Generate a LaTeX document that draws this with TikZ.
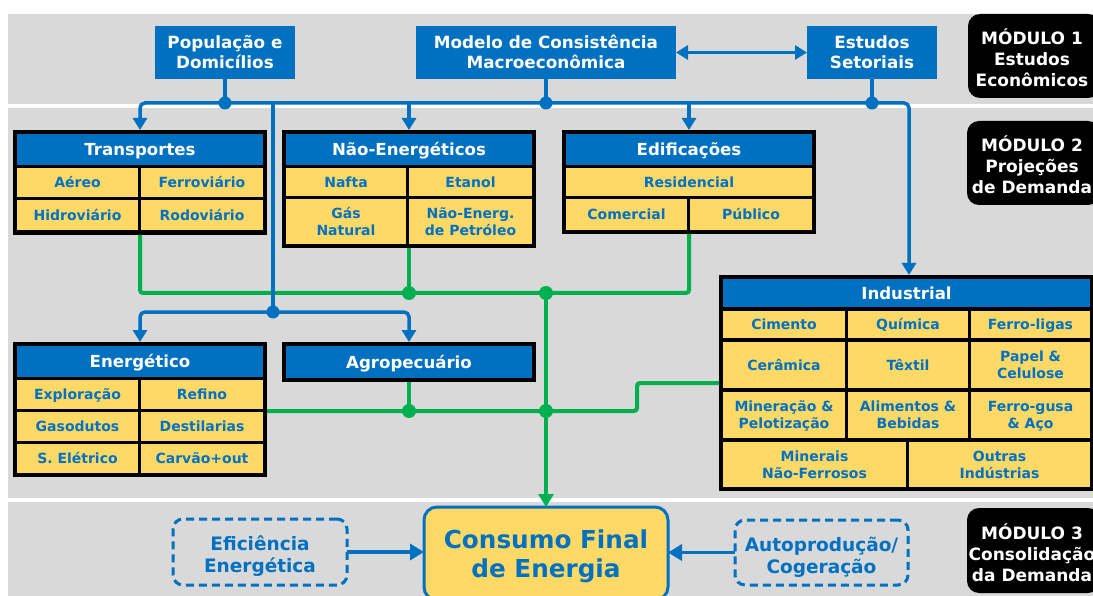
\documentclass[tikz,border=0pt]{standalone}
\usepackage{fontspec}
\setmainfont{DejaVu Sans}
\usetikzlibrary{arrows.meta}
\definecolor{eblue}{HTML}{0070C0}
\definecolor{eyel}{HTML}{FFD966}
\definecolor{egray}{HTML}{D9D9D9}
\definecolor{egreen}{HTML}{00B050}
\def\capht{.73em}
\newcommand{\Ln}[1]{\rule{0pt}{\capht}\smash{#1}}
\newcommand{\fT}{\fontsize{16.8}{20}\selectfont\bfseries}
\newcommand{\fH}{\fontsize{16.6}{20}\selectfont\bfseries}
\newcommand{\fC}{\fontsize{14}{16.8}\selectfont\bfseries}
\newcommand{\fM}{\fontsize{17}{21}\selectfont\bfseries\def\capht{1.06em}}
\newcommand{\fD}{\fontsize{18.5}{22}\selectfont\bfseries\def\capht{1.05em}}
\newcommand{\fB}{\fontsize{24.7}{29}\selectfont\bfseries}
\newcommand{\mkbox}[7]{\node[#1, minimum width={(#5-#3)*1pt}, minimum height={(#6-#4)*1pt}] (#2) at ({(#3+#5)/2},{(#4+#6)/2}) {#7};}
\begin{document}
\begin{tikzpicture}[x=1pt,y=-1pt,
  outerb/.style={fill=black, inner sep=0pt, outer sep=0pt},
  hdr/.style={fill=eblue, text=white, font=\fH, inner sep=0pt, outer sep=0pt, align=center},
  cellb/.style={fill=eyel, text=eblue, font=\fC, inner sep=0pt, outer sep=0pt, align=center},
  topb/.style={fill=eblue, text=white, font=\fT, inner sep=0pt, outer sep=0pt, align=center},
  modb/.style={fill=black, rounded corners=12pt, inner sep=0pt, outer sep=0pt},
  modt/.style={text=white, font=\fM, align=center, inner sep=0pt},
  dashb/.style={draw=eblue, line width=3pt, dash pattern=on 8pt off 5pt, rounded corners=10pt, text=eblue, font=\fD, align=center, inner sep=0pt, outer sep=0pt},
  bigb/.style={draw=eblue, line width=3pt, fill=eyel, rounded corners=13pt, text=eblue, font=\fB, align=center, inner sep=0pt, outer sep=0pt},
  bline/.style={draw=eblue, line width=3.5pt},
  gline/.style={draw=egreen, line width=4pt},
  btip/.tip={Triangle[width=14pt,length=12pt]},
  gtip/.tip={Triangle[width=15pt,length=13pt]},
  ctip/.tip={Triangle[width=16pt,length=14pt]}
]
\useasboundingbox (0,0) rectangle (1093,596);
\clip (0,0) rectangle (1093,596);
\fill[white] (0,0) rectangle (1093,596);
% bands
\fill[egray] (8,14) rectangle (1100,104);
\fill[egray] (8,108) rectangle (1100,498);
\fill[egray] (8,502) rectangle (1100,600);

% module labels
\mkbox{modb}{m1}{968}{14}{1100}{98}{}
\mkbox{modb}{m2}{967}{121}{1100}{205}{}
\mkbox{modb}{m3}{967}{508}{1100}{593}{}
\node[modt] (m1t) at (1032,56) {\Ln{MÓDULO 1}\\\Ln{Estudos}\\\Ln{Econômicos}};
\node[modt] (m2t) at (1032,163) {\Ln{MÓDULO 2}\\\Ln{Projeções}\\\Ln{de Demanda}};
\node[modt] (m3t) at (1032,551) {\Ln{MÓDULO 3}\\\Ln{Consolidação}\\\Ln{da Demanda}};

% top boxes
\mkbox{topb}{pop}{155}{26}{295}{79}{\Ln{População e}\\\Ln{Domicílios}}
\mkbox{topb}{modelo}{416}{26}{676}{79}{\Ln{Modelo de Consistência}\\\Ln{Macroeconômica}}
\mkbox{topb}{estudos}{807}{26}{937}{79}{\Ln{Estudos}\\\Ln{Setoriais}}

% Transportes
\mkbox{outerb}{trans}{13}{130}{267}{235}{}
\mkbox{hdr}{transh}{17}{134}{263}{165}{\Ln{Transportes}}
\mkbox{cellb}{t1}{17}{168}{138}{197}{\Ln{Aéreo}}
\mkbox{cellb}{t2}{141}{168}{263}{197}{\Ln{Ferroviário}}
\mkbox{cellb}{t3}{17}{200}{138}{230}{\Ln{Hidroviário}}
\mkbox{cellb}{t4}{141}{200}{263}{230}{\Ln{Rodoviário}}

% Nao-Energeticos
\mkbox{outerb}{nao}{282}{130}{536}{248}{}
\mkbox{hdr}{naoh}{286}{134}{532}{165}{\Ln{Não-Energéticos}}
\mkbox{cellb}{n1}{286}{168}{406}{196}{\Ln{Nafta}}
\mkbox{cellb}{n2}{409}{168}{532}{196}{\Ln{Etanol}}
\mkbox{cellb}{n3}{286}{199}{406}{244}{\Ln{Gás}\\\Ln{Natural}}
\mkbox{cellb}{n4}{409}{199}{532}{244}{\Ln{Não-Energ.}\\\Ln{de Petróleo}}

% Edificacoes
\mkbox{outerb}{edif}{562}{130}{816}{234}{}
\mkbox{hdr}{edifh}{566}{134}{812}{165}{\Ln{Edificações}}
\mkbox{cellb}{e1}{566}{168}{812}{196}{\Ln{Residencial}}
\mkbox{cellb}{e2}{566}{199}{687}{230}{\Ln{Comercial}}
\mkbox{cellb}{e3}{690}{199}{812}{230}{\Ln{Público}}

% Energetico
\mkbox{outerb}{ener}{13}{342}{267}{477}{}
\mkbox{hdr}{enerh}{17}{346}{263}{377}{\Ln{Energético}}
\mkbox{cellb}{r1}{17}{380}{138}{409}{\Ln{Exploração}}
\mkbox{cellb}{r2}{141}{380}{263}{409}{\Ln{Refino}}
\mkbox{cellb}{r3}{17}{412}{138}{441}{\Ln{Gasodutos}}
\mkbox{cellb}{r4}{141}{412}{263}{441}{\Ln{Destilarias}}
\mkbox{cellb}{r5}{17}{444}{138}{473}{\Ln{S. Elétrico}}
\mkbox{cellb}{r6}{141}{444}{263}{473}{\Ln{Carvão+out}}

% Agropecuario
\mkbox{outerb}{agro}{282}{342}{536}{382}{}
\mkbox{hdr}{agroh}{286}{346}{532}{378}{\Ln{Agropecuário}}

% Industrial
\mkbox{outerb}{ind}{719}{275}{1094}{491}{}
\mkbox{hdr}{indh}{723}{279}{1090}{307}{\Ln{Industrial}}
\mkbox{cellb}{i1}{723}{311}{845}{338}{\Ln{Cimento}}
\mkbox{cellb}{i2}{848}{311}{968}{338}{\Ln{Química}}
\mkbox{cellb}{i3}{971}{311}{1090}{338}{\Ln{Ferro-ligas}}
\mkbox{cellb}{i4}{723}{342}{845}{388}{\Ln{Cerâmica}}
\mkbox{cellb}{i5}{848}{342}{968}{388}{\Ln{Têxtil}}
\mkbox{cellb}{i6}{971}{342}{1090}{388}{\Ln{Papel \&}\\\Ln{Celulose}}
\mkbox{cellb}{i7}{723}{392}{845}{438}{\Ln{Mineração \&}\\\Ln{Pelotização}}
\mkbox{cellb}{i8}{848}{392}{968}{438}{\Ln{Alimentos \&}\\\Ln{Bebidas}}
\mkbox{cellb}{i9}{971}{392}{1090}{438}{\Ln{Ferro-gusa}\\\Ln{\& Aço}}
\mkbox{cellb}{i10}{723}{442}{906}{487}{\Ln{Minerais}\\\Ln{Não-Ferrosos}}
\mkbox{cellb}{i11}{909}{442}{1090}{487}{\Ln{Outras}\\\Ln{Indústrias}}

% bottom
\mkbox{bigb}{cons}{424}{507}{668}{600}{\Ln{Consumo Final}\\\Ln{de Energia}}
\mkbox{dashb}{efic}{173}{519}{347}{585}{\Ln{Eficiência}\\\Ln{Energética}}
\mkbox{dashb}{auto}{735}{520}{908}{585}{\Ln{Autoprodução/}\\\Ln{Cogeração}}

% green connectors
\coordinate (g1) at (0,293);
\coordinate (g2) at (0,411);
\coordinate (jog) at (637,0);
\draw[gline, rounded corners=3pt] (trans.south) -- (trans.south |- g1) -- (edif.south |- g1) -- (edif.south);
\draw[gline] (nao.south) -- (nao.south |- g1);
\draw[gline, -{gtip}] (cons.north |- g1) -- (cons.north);
\draw[gline, rounded corners=3pt] (ener.east |- g2) -- (jog |- g2) -- (jog |- ind.west) -- (ind.west);
\draw[gline] (agro.south) -- (agro.south |- g2);
\fill[egreen] (nao.south |- g1) circle (7pt);
\fill[egreen] (cons.north |- g1) circle (7pt);
\fill[egreen] (agro.south |- g2) circle (7pt);
\fill[egreen] (cons.north |- g2) circle (7pt);

% blue connectors
\coordinate (bus) at (0,103);
\coordinate (indin) at (909,0);
\coordinate (bus2) at (273,312);
\draw[bline, rounded corners=5pt, {btip}-{btip}] (trans.north) -- (trans.north |- bus) -- (indin |- bus) -- (indin |- ind.north);
\draw[bline, -{btip}] (nao.north |- bus) -- (nao.north);
\draw[bline, -{btip}] (edif.north |- bus) -- (edif.north);
\draw[bline] (pop.south) -- (pop.south |- bus);
\draw[bline] (modelo.south) -- (modelo.south |- bus);
\draw[bline] (estudos.south) -- (estudos.south |- bus);
\draw[bline] (bus2 |- bus) -- (bus2);
\draw[bline, rounded corners=5pt, {btip}-{btip}] (ener.north) -- (ener.north |- bus2) -- (agro.north |- bus2) -- (agro.north);
\draw[bline, {btip}-{btip}] (modelo.east) -- (estudos.west);
\fill[eblue] (pop.south |- bus) circle (6.5pt);
\fill[eblue] (modelo.south |- bus) circle (6.5pt);
\fill[eblue] (estudos.south |- bus) circle (6.5pt);
\fill[eblue] (bus2) circle (6.5pt);
\draw[bline, -{ctip}] (efic.east) -- (cons.west |- efic.east);
\draw[bline, -{ctip}] (auto.west) -- (cons.east |- auto.west);
\end{tikzpicture}
\end{document}
